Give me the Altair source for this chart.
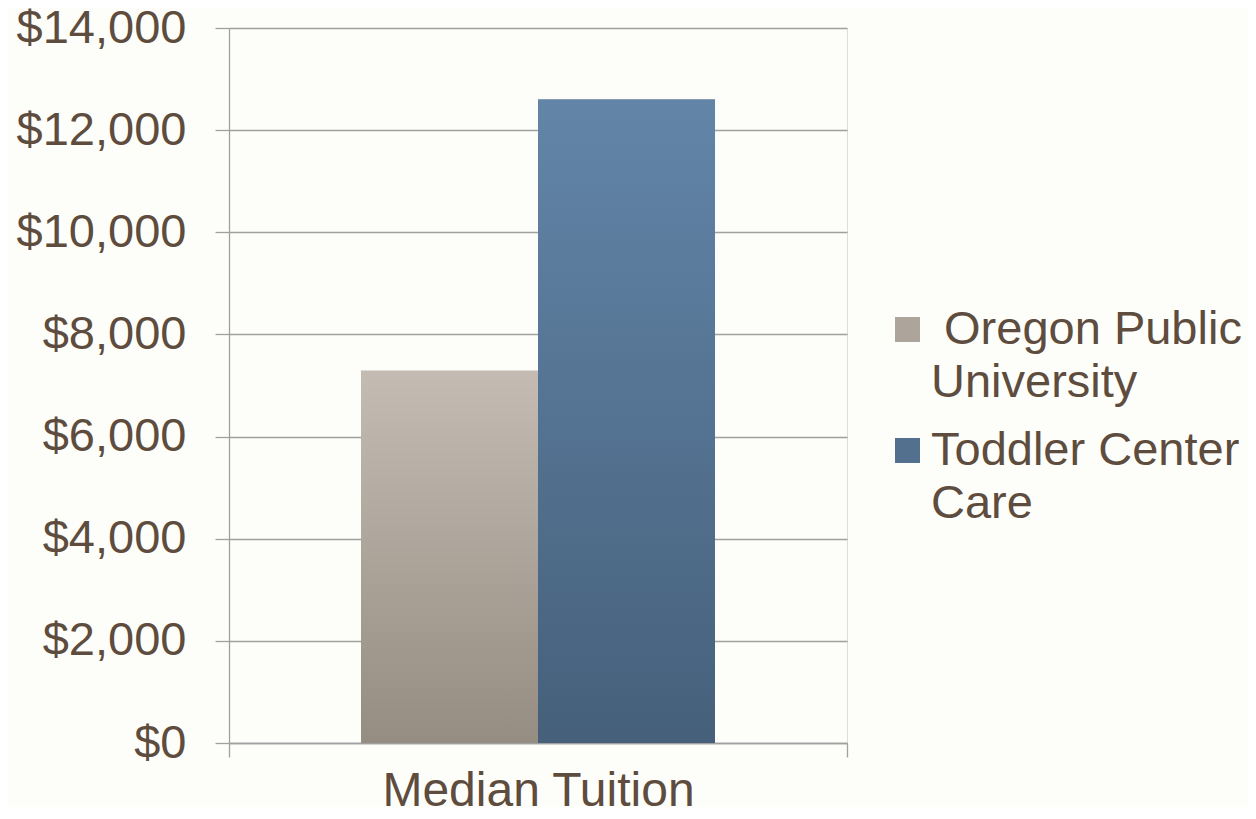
import altair as alt
import pandas as pd

categories = ["Median Tuition"]
series = ["Oregon Public University", "Toddler Center Care"]
values = [7290, 12600]
y_ticks = [0, 2000, 4000, 6000, 8000, 10000, 12000, 14000]

df = pd.DataFrame({
    "category": [categories[0]] * len(series),
    "series": series,
    "value": values,
})

TEXT = "#5E4C3E"
LINE = "#A0A0A0"
FONT = "Liberation Sans"

grad_gray = alt.LinearGradient(
    gradient="linear",
    stops=[alt.GradientStop(color="#C4BCB2", offset=0),
           alt.GradientStop(color="#958C82", offset=1)],
    x1=0, x2=0, y1=0, y2=1,
)
grad_blue = alt.LinearGradient(
    gradient="linear",
    stops=[alt.GradientStop(color="#6285A8", offset=0),
           alt.GradientStop(color="#46607B", offset=1)],
    x1=0, x2=0, y1=0, y2=1,
)

x = alt.X(
    "category:N",
    scale=alt.Scale(paddingInner=0, paddingOuter=0),
    axis=alt.Axis(title=None, labelAngle=0, grid=False, ticks=True, tickBand="extent",
                  tickSize=14, labelPadding=10, labelFontSize=48, labelColor=TEXT,
                  labelFont=FONT, labelLimit=800, domainColor=LINE, tickColor=LINE,
                  domainWidth=1.3, tickWidth=1.3),
)
xoff = alt.XOffset("series:N", sort=series,
                   scale=alt.Scale(paddingOuter=0.746, paddingInner=0))
y = alt.Y(
    "value:Q",
    scale=alt.Scale(domain=[0, 14000], nice=False),
    axis=alt.Axis(title=None, values=y_ticks, format="$,.0f", grid=True, gridColor=LINE,
                  gridWidth=1.3, tickSize=14, tickColor=LINE, tickWidth=1.3,
                  domainColor=LINE, domainWidth=1.3, labelPadding=29, labelFontSize=47,
                  labelColor=TEXT, labelFont=FONT, labelLimit=400),
)

base = alt.Chart(df).encode(x=x, xOffset=xoff, y=y)

legend_layer = base.mark_bar().encode(
    color=alt.Color(
        "series:N", sort=series,
        scale=alt.Scale(domain=series, range=["#ADA59B", "#54708F"]),
        legend=alt.Legend(
            title=None, orient="none", legendX=655, legendY=278, padding=0,
            symbolType="square", symbolSize=625, symbolStrokeWidth=0,
            labelFontSize=47, labelFont=FONT, labelColor=TEXT, labelLimit=500,
            labelOffset=0, labelBaseline="middle", rowPadding=20,
            labelExpr="datum.label == 'Oregon Public University' ? ['\u200b Oregon Public', 'University'] : ['Toddler Center', 'Care']",
        ),
    )
)
g1 = base.transform_filter(alt.datum.series == series[0]).mark_bar(color=grad_gray)
g2 = base.transform_filter(alt.datum.series == series[1]).mark_bar(color=grad_blue)

chart = (
    alt.layer(legend_layer, g1, g2)
    .properties(width=618, height=715, background="#FDFEF9", autosize="none",
                padding={"left": 221, "top": 20, "right": 401, "bottom": 64})
    .configure_view(strokeWidth=0)
    .configure(style={"guide-label": {"lineHeight": 53}})
)

chart.save("out.html", embed_options={"renderer": "svg", "actions": False})
